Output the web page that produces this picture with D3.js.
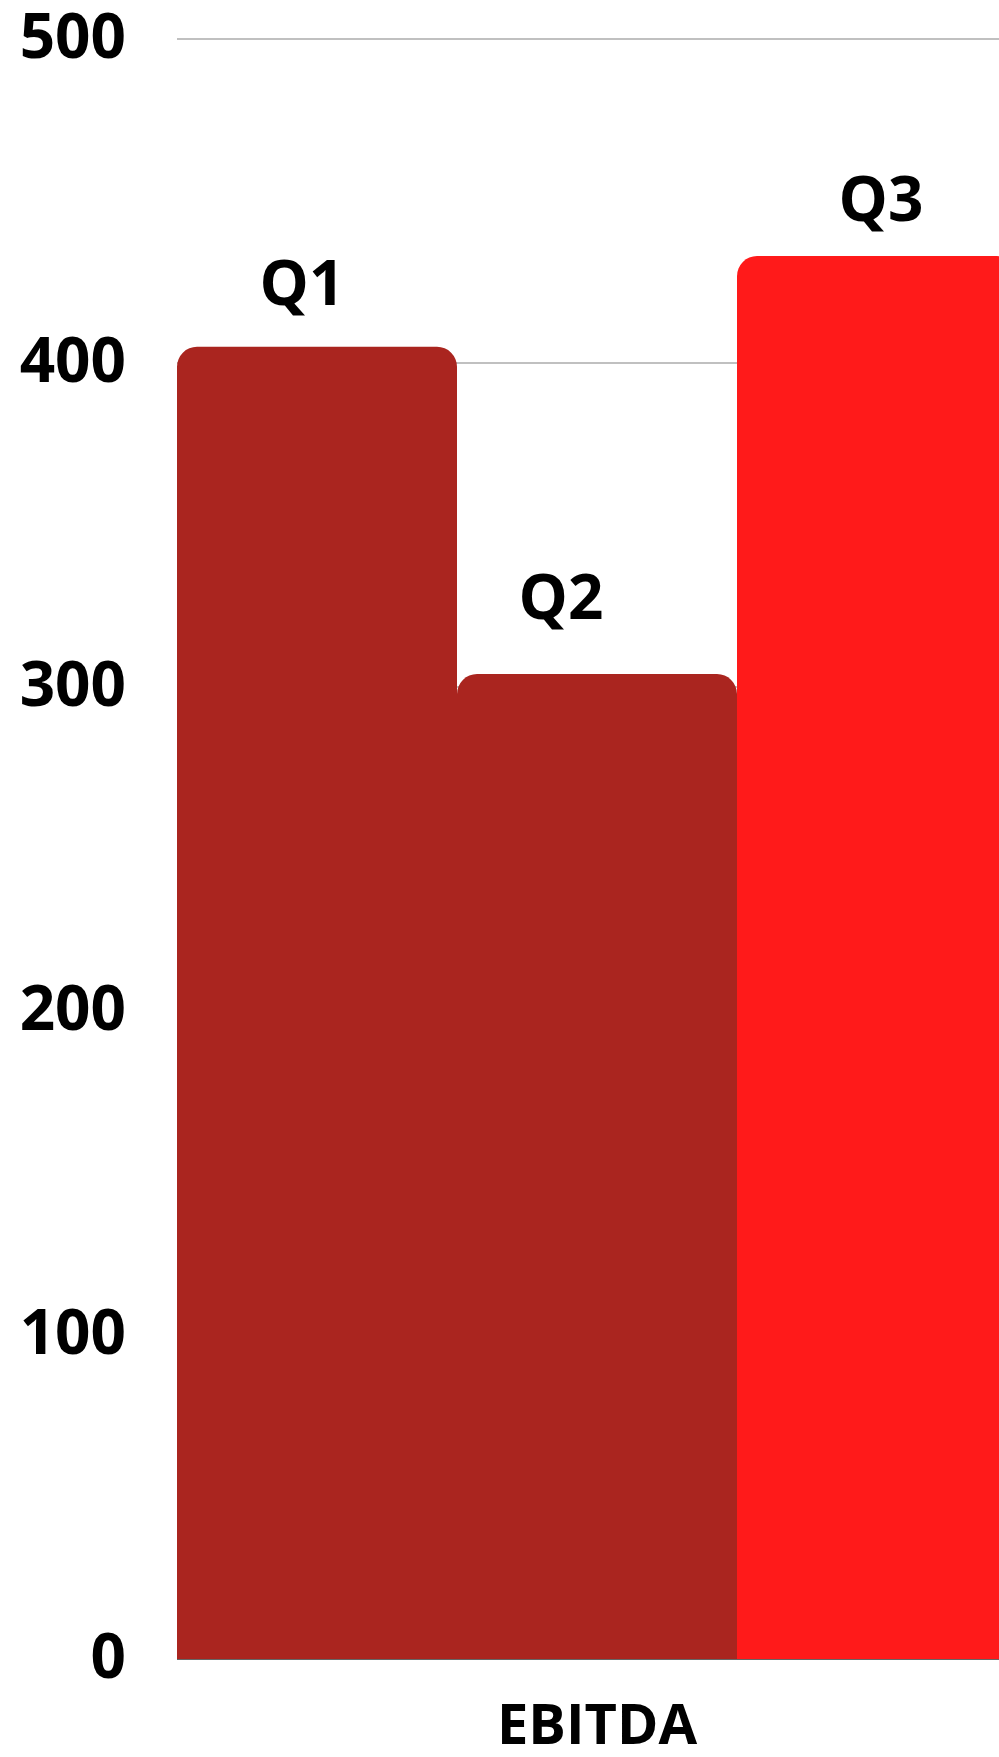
<!DOCTYPE html>
<html>
<head>
<meta charset="utf-8">
<script src="https://cdn.jsdelivr.net/npm/d3@7"></script>
<style>
  html, body { margin: 0; padding: 0; background: #ffffff; overflow: hidden; }
  svg { display: block; }
  text { font-family: "Open Sans", "Noto Sans", sans-serif; font-weight: 700; fill: #000; }
</style>
</head>
<body>
<div id="chart"></div>
<script>
// EBITDA by quarter
const categories = ["EBITDA"];
const series = ["Q1", "Q2", "Q3"];
const values = [405, 304, 433];
const tickValues = [0, 100, 200, 300, 400, 500];

// styling / layout
const colors = ["#aa251f", "#aa251f", "#ff1a1a"];
const labelNudge = [[-15, -42], [-36, -55], [4, -35]]; // [dx, dy] from bar top-centre
const W = 999, H = 1757;
const plotLeft = 177, plotRight = 1017, yTop = 39, yBase = 1659;
const radius = 20;

const svg = d3.select("#chart").append("svg")
  .attr("width", W).attr("height", H);

const x0 = d3.scaleBand().domain(categories).range([plotLeft, plotRight]).padding(0);
const x1 = d3.scaleBand().domain(series).range([0, x0.bandwidth()]).padding(0);
const y = d3.scaleLinear().domain([0, 500]).range([yBase, yTop]);

// gridlines
svg.append("g")
  .selectAll("line")
  .data(tickValues.filter(t => t > 0))
  .join("line")
  .attr("x1", plotLeft).attr("x2", W)
  .attr("y1", d => y(d)).attr("y2", d => y(d))
  .attr("stroke", "#c0c0c0").attr("stroke-width", 2);

// y axis labels
const yAxis = svg.append("g")
  .attr("transform", `translate(126,0)`)
  .call(d3.axisLeft(y).tickValues(tickValues).tickSize(0).tickPadding(0).tickFormat(d3.format("d")));
yAxis.select(".domain").remove();
yAxis.selectAll("text")
  .attr("font-size", 62)
  .attr("font-family", "'Open Sans', 'Noto Sans', sans-serif")
  .attr("font-weight", 700)
  .attr("fill", "#000")
  .attr("dy", "0.3em")
  .attr("text-anchor", "end");

// bars with rounded top corners
function topRoundedBar(x, yT, w, h, r) {
  const rr = Math.min(r, w / 2, h);
  return `M${x},${yT + h}` +
    `V${yT + rr}` +
    `A${rr},${rr} 0 0 1 ${x + rr},${yT}` +
    `H${x + w - rr}` +
    `A${rr},${rr} 0 0 1 ${x + w},${yT + rr}` +
    `V${yT + h}Z`;
}

const bars = series.map((s, i) => ({ key: s, value: values[i], color: colors[i], nudge: labelNudge[i] }));
const group = svg.append("g").attr("transform", `translate(${x0(categories[0])},0)`);

group.selectAll("path.bar")
  .data(bars)
  .join("path")
  .attr("class", "bar")
  .attr("fill", d => d.color)
  .attr("d", d => topRoundedBar(x1(d.key), y(d.value), x1.bandwidth(), y(0) - y(d.value), radius));

// series labels above bars
group.selectAll("text.lbl")
  .data(bars)
  .join("text")
  .attr("class", "lbl")
  .attr("x", d => x1(d.key) + x1.bandwidth() / 2 + d.nudge[0])
  .attr("y", d => y(d.value) + d.nudge[1])
  .attr("text-anchor", "middle")
  .attr("font-size", 62)
  .text(d => d.key);

// baseline
svg.append("line")
  .attr("x1", plotLeft).attr("x2", W)
  .attr("y1", y(0) + 0.5).attr("y2", y(0) + 0.5)
  .attr("stroke", "#666").attr("stroke-width", 1);

// category axis label
const xAxis = svg.append("g")
  .attr("transform", `translate(0,${y(0)})`)
  .call(d3.axisBottom(x0).tickSize(0).tickPadding(0));
xAxis.select(".domain").remove();
xAxis.selectAll("text")
  .attr("font-size", 56)
  .attr("font-family", "'Open Sans', 'Noto Sans', sans-serif")
  .attr("font-weight", 700)
  .attr("fill", "#000")
  .attr("dy", null)
  .attr("y", 85);
</script>
</body>
</html>
